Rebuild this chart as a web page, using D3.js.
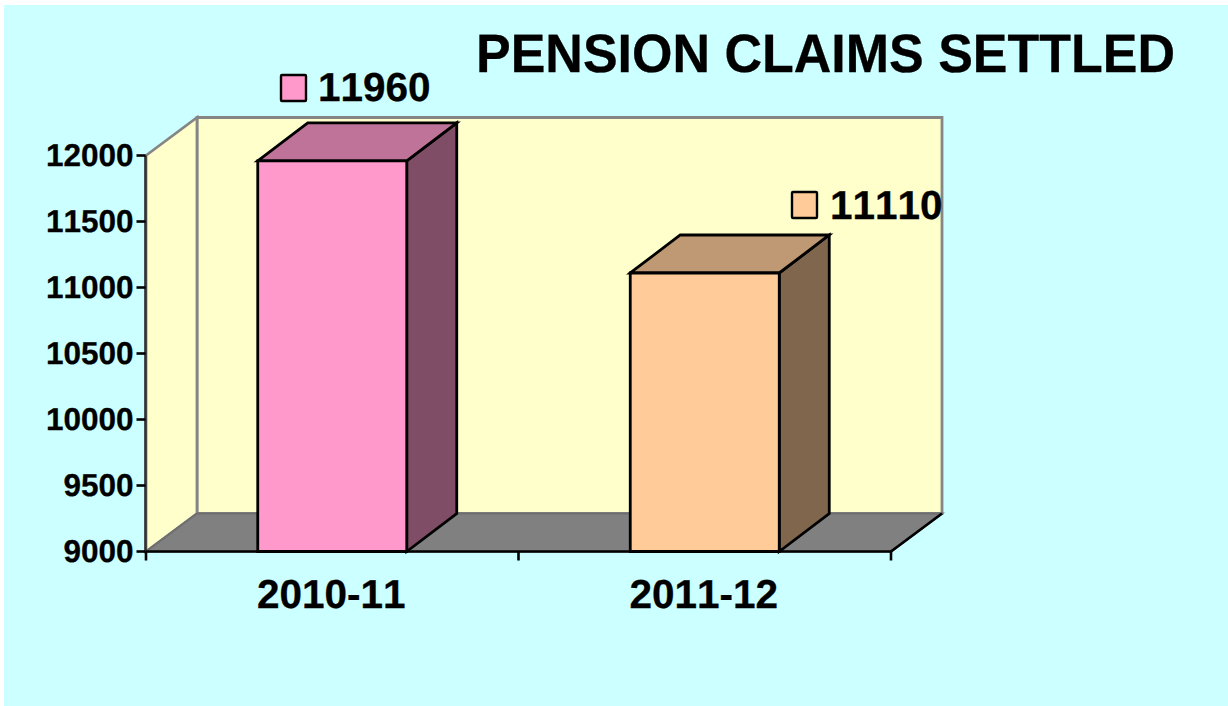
<!DOCTYPE html>
<html><head><meta charset="utf-8">
<script src="https://cdn.jsdelivr.net/npm/d3@7"></script>
<style>
html,body{margin:0;padding:0;background:#fff}
svg{display:block}
text{font-family:"Liberation Sans",Arial,sans-serif;font-weight:bold;fill:#000;font-kerning:none;text-rendering:geometricPrecision;stroke:#000;stroke-width:0.3px}
</style></head><body>
<svg id="c" width="1228" height="706"></svg>
<script>
const categories = ["2010-11","2011-12"];
const values = [11960,11110];
const tickValues = [9000,9500,10000,10500,11000,11500,12000];
const title = "PENSION CLAIMS SETTLED";
const front = ["#ff99cc","#ffcc99"];
const topFace = ["#bf7399","#bf9973"];
const sideFace = ["#804d66","#80664d"];

const svg = d3.select("#c");
const W=1228,H=706;
const dx=51, dy=-38, bdx=50;
const x = d3.scaleBand().domain(categories).range([146,891]).paddingInner(0.6).paddingOuter(0.3);
const y = d3.scaleLinear().domain([9000,12000]).range([551.5,155.5]);
const line = d3.line();
const x0=x.range()[0], x1=x.range()[1], y0=y.range()[0], y1=y.range()[1];
const poly=(pts,fill,stroke,sw)=>svg.append("path").attr("d",line(pts)+"Z").attr("fill",fill).attr("stroke",stroke).attr("stroke-width",sw).attr("stroke-linejoin","miter");

svg.append("rect").attr("x",4).attr("y",5).attr("width",W-4).attr("height",H-5).attr("fill","#ccffff");

// walls & floor
poly([[x0+dx,y1+dy],[x1+dx,y1+dy],[x1+dx,y0+dy],[x0+dx,y0+dy]],"#ffffcc","#868686",2.8);
poly([[x0,y1],[x0+dx,y1+dy],[x0+dx,y0+dy],[x0,y0]],"#ffffcc","#868686",2.8);
poly([[x0,y0],[x0+dx,y0+dy],[x1+dx,y0+dy],[x1,y0]],"#808080","#6e6e6e",2);
svg.append("path").attr("d",line([[x1,y0],[x1+dx,y0+dy]])).attr("stroke","#000").attr("stroke-width",2.8).attr("fill","none");

// bars
categories.forEach((c,i)=>{
  const l=x(c), r=l+x.bandwidth(), t=y(values[i]);
  poly([[r,t],[r+bdx,t+dy],[r+bdx,y0+dy],[r,y0]],sideFace[i],"#000",2.8);
  poly([[l,t],[l+bdx,t+dy],[r+bdx,t+dy],[r,t]],topFace[i],"#000",2.8);
  poly([[l,t],[r,t],[r,y0],[l,y0]],front[i],"#000",2.8);
});

// axes
const gy=svg.append("g").attr("transform",`translate(${x0-0.5},0)`)
  .call(d3.axisLeft(y).offset(0).tickValues(tickValues).tickSize(9).tickPadding(3).tickFormat(d3.format("d")));
gy.selectAll("text").attr("font-size",31.5).style("font-family",'"Liberation Sans"').style("font-weight","bold");
gy.selectAll("line,path").attr("stroke","#000").attr("stroke-width",2.6);
gy.select("path").attr("d",`M0,${y0}V${y1}`).attr("stroke","#333");

const xTicks=d3.scalePoint().domain(d3.range(categories.length+1)).range([x0,x1]);
const gx=svg.append("g").attr("transform",`translate(0,${y0})`)
  .call(d3.axisBottom(xTicks).offset(0).tickSize(9).tickFormat(""));
gx.selectAll("line,path").attr("stroke","#000").attr("stroke-width",2.6);
gx.select("path").attr("d",`M${x0},0H${x1}`);

// category labels
svg.selectAll("text.cat").data(categories).join("text").attr("class","cat")
  .attr("x",d=>x(d)+x.bandwidth()/2-1).attr("y",608).attr("text-anchor","middle").attr("font-size",40.5).text(d=>d);

// value labels with legend keys
const keyX=[281,792], textX=[318,830], labelY=[101,219];
values.forEach((v,i)=>{
  svg.append("rect").attr("x",keyX[i]).attr("y",[75,192][i]).attr("width",25).attr("height",26)
    .attr("rx",1).attr("fill",front[i]).attr("stroke","#000").attr("stroke-width",2.4);
  svg.append("text").attr("x",textX[i]).attr("y",labelY[i]).attr("font-size",40.5).text(v);
});

svg.append("text").attr("x",476).attr("y",72).attr("font-size",54)
  .attr("textLength",699).attr("lengthAdjust","spacingAndGlyphs").text(title);
</script></body></html>
